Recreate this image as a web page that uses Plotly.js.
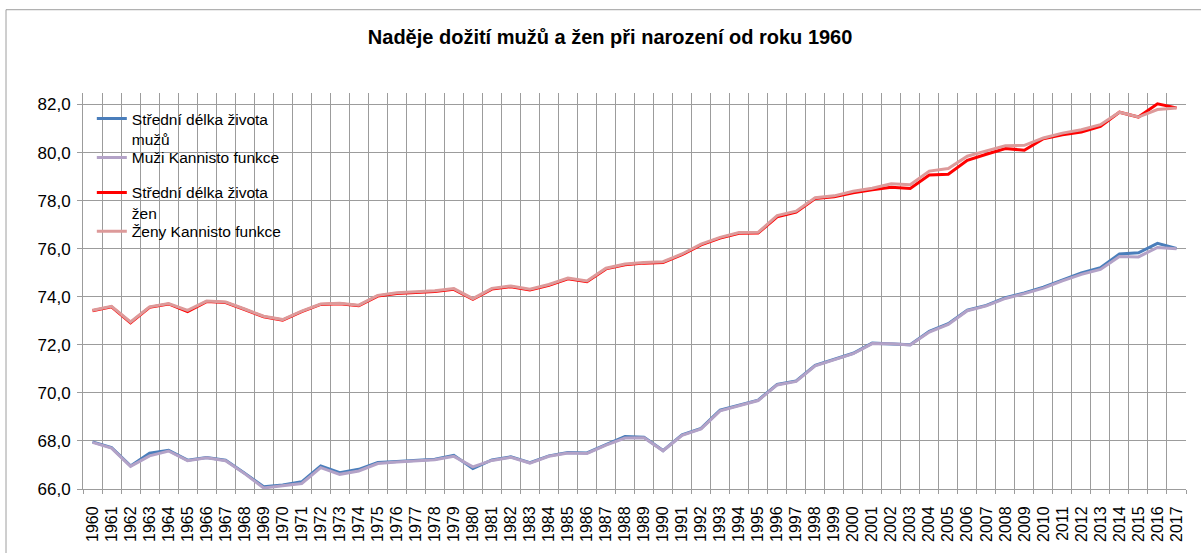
<!DOCTYPE html>
<html>
<head>
<meta charset="utf-8">
<script src="https://cdn.plot.ly/plotly-3.0.1.min.js"></script>
<style>
html,body{margin:0;padding:0;background:#fff;}
#chart{width:1201px;height:553px;}
</style>
</head>
<body>
<div id="chart"></div>
<script>
const years = ["1960","1961","1962","1963","1964","1965","1966","1967","1968","1969",
"1970","1971","1972","1973","1974","1975","1976","1977","1978","1979",
"1980","1981","1982","1983","1984","1985","1986","1987","1988","1989",
"1990","1991","1992","1993","1994","1995","1996","1997","1998","1999",
"2000","2001","2002","2003","2004","2005","2006","2007","2008","2009",
"2010","2011","2012","2013","2014","2015","2016","2017"];

const menLife = [67.96,67.72,66.96,67.49,67.61,67.20,67.31,67.20,66.66,66.09,
66.17,66.30,66.96,66.68,66.82,67.10,67.14,67.18,67.24,67.40,
66.85,67.21,67.34,67.10,67.38,67.52,67.50,67.85,68.18,68.15,
67.60,68.25,68.52,69.28,69.50,69.70,70.35,70.50,71.15,71.40,
71.65,72.07,72.05,72.00,72.56,72.88,73.44,73.64,73.96,74.16,
74.40,74.71,74.99,75.21,75.78,75.83,76.22,76.01];

const menKannisto = [67.94,67.70,66.94,67.38,67.58,67.18,67.30,67.18,66.64,66.04,
66.14,66.23,66.89,66.61,66.75,67.06,67.12,67.16,67.22,67.36,
66.92,67.19,67.32,67.08,67.36,67.50,67.48,67.83,68.12,68.13,
67.59,68.23,68.50,69.25,69.48,69.68,70.33,70.48,71.13,71.38,
71.63,72.05,72.04,71.99,72.53,72.85,73.42,73.62,73.93,74.13,
74.36,74.66,74.93,75.14,75.68,75.66,76.05,76.00];

const womenLife = [73.42,73.58,72.92,73.56,73.70,73.38,73.80,73.76,73.47,73.17,
73.03,73.38,73.68,73.71,73.63,74.03,74.14,74.17,74.22,74.31,
73.89,74.32,74.42,74.28,74.48,74.75,74.63,75.16,75.33,75.40,
75.43,75.75,76.16,76.44,76.64,76.65,77.33,77.52,78.09,78.16,
78.33,78.45,78.56,78.51,79.07,79.10,79.68,79.93,80.17,80.10,
80.58,80.74,80.86,81.09,81.68,81.48,82.03,81.86];

const womenKannisto = [73.44,73.60,72.95,73.58,73.72,73.43,73.82,73.78,73.49,73.19,
73.05,73.40,73.70,73.73,73.65,74.06,74.17,74.20,74.25,74.34,
73.92,74.35,74.45,74.31,74.51,74.78,74.66,75.19,75.36,75.43,
75.46,75.78,76.19,76.47,76.67,76.68,77.38,77.56,78.12,78.20,
78.39,78.52,78.70,78.66,79.23,79.34,79.85,80.07,80.28,80.30,
80.61,80.81,80.95,81.16,81.68,81.48,81.79,81.86];

const seriesNames = ["Střední délka života<br>mužů","Muži Kannisto funkce",
  "Střední délka života<br>žen","Ženy Kannisto funkce"];
const titleText = "Naděje dožití mužů a žen při narození od roku 1960";

const FONT = "Liberation Sans, Arial, sans-serif";

const traces = [
  {x: years, y: menLife, name: seriesNames[0], type: "scatter", mode: "lines",
   line: {color: "#4A7EBB", width: 3}, legend: "legend"},
  {x: years, y: menKannisto, name: seriesNames[1], type: "scatter", mode: "lines",
   line: {color: "#B3A2C7", width: 3}, legend: "legend2"},
  {x: years, y: womenLife, name: seriesNames[2], type: "scatter", mode: "lines",
   line: {color: "#FF0000", width: 3}, legend: "legend3"},
  {x: years, y: womenKannisto, name: seriesNames[3], type: "scatter", mode: "lines",
   line: {color: "#DD9A9A", width: 3}, legend: "legend4"}
];

function leg(yp) {
  return {x: 0.008, y: yp, xanchor: "left", yanchor: "top",
          bgcolor: "rgba(0,0,0,0)", font: {family: FONT, size: 15.5, color: "#000"},
          valign: "top", borderwidth: 0};
}

const layout = {
  width: 1201, height: 553,
  paper_bgcolor: "#ffffff", plot_bgcolor: "#ffffff",
  margin: {l: 83, r: 15, t: 92.5, b: 63.5},
  separators: ", ",
  font: {family: FONT, color: "#000"},
  title: {text: "<b>" + titleText + "</b>", font: {family: FONT, size: 20, color: "#000"},
          x: 0.508, xanchor: "center", y: 0.933, yanchor: "middle"},
  showlegend: true,
  legend: leg(0.9773),
  legend2: leg(0.8791),
  legend3: leg(0.7909),
  legend4: leg(0.6927),
  xaxis: {type: "category", range: [-0.5, 57.5], tickson: "boundaries",
          tickmode: "linear", tick0: 0, dtick: 1,
          showgrid: true, gridcolor: "#9C9C9C", gridwidth: 1,
          showline: true, linecolor: "#9C9C9C", linewidth: 1,
          ticks: "outside", ticklen: 4, tickcolor: "#9C9C9C",
          tickangle: -90, ticklabelstandoff: 10,
          tickfont: {family: FONT, size: 16, color: "#000"},
          zeroline: false, fixedrange: true},
  yaxis: {range: [66, 82.48], tickvals: [66,68,70,72,74,76,78,80,82], tickformat: ".1f",
          showgrid: true, gridcolor: "#9C9C9C", gridwidth: 1,
          showline: true, linecolor: "#9C9C9C", linewidth: 1,
          ticks: "outside", ticklen: 5, tickcolor: "#9C9C9C", ticklabelstandoff: 3,
          tickfont: {family: FONT, size: 17, color: "#000"},
          zeroline: false, fixedrange: true},
  shapes: [{type: "rect", xref: "paper", yref: "paper",
            x0: -77/1103, x1: 1.05, y0: -0.2, y1: 1 + 83.5/397,
            line: {color: "#9E9E9E", width: 1}, fillcolor: "rgba(0,0,0,0)", layer: "below"}]
};

Plotly.newPlot("chart", traces, layout, {displayModeBar: false, staticPlot: true});
</script>
</body>
</html>
